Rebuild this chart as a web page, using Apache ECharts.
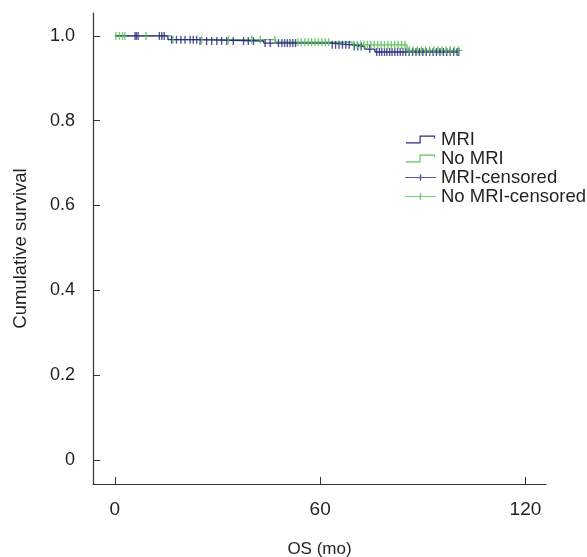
<!DOCTYPE html>
<html>
<head>
<meta charset="utf-8">
<script src="https://cdn.jsdelivr.net/npm/echarts@6/dist/echarts.min.js"></script>
<style>html,body{margin:0;padding:0;background:#fff;}#c{width:587px;height:557px;}</style>
</head>
<body>
<div id="c"></div>
<script>
// Step curves (time in months, cumulative survival)
var mriTimes = [0, 15.5, 24, 43.5, 63, 69.3, 73, 76, 100.5];
var mriSurv  = [1.0, 0.991, 0.988, 0.983, 0.979, 0.975, 0.969, 0.962, 0.962];
var noMriTimes = [0, 16.5, 47, 69.3, 85.4, 101.5];
var noMriSurv  = [1.0, 0.991, 0.985, 0.979, 0.966, 0.966];
// Censoring times
var mriCensored = [5.9, 6.3, 6.8, 13, 13.7, 14.4, 16.6, 18, 19.3, 20.5, 22, 22.9, 23.9, 24.9, 26.8, 28.3, 29.8, 31.2, 32.7, 34.6, 37.6, 39, 40.5, 43.9, 45.4, 47.8, 48.8, 49.6, 50.4, 51.2, 52, 52.8, 63.5, 64.5, 65.5, 66.5, 67.5, 68.5, 70, 71, 72, 74.5, 76.5, 77.3, 78, 78.8, 79.5, 80.3, 81, 81.8, 82.6, 83.4, 84.2, 85, 86, 87, 88, 89, 90, 91, 92, 93, 94, 95, 96, 97, 98, 99, 100, 100.5];
var noMriCensored = [0.3, 1.3, 2.2, 2.9, 9.1, 17, 25.4, 33.2, 40, 42.5, 46.8, 53.5, 54.5, 55.5, 56.5, 57.5, 58.5, 59.5, 60.5, 61.5, 62.5, 69.8, 70.8, 71.8, 72.8, 73.8, 74.8, 75.8, 76.8, 77.8, 78.8, 79.8, 80.8, 81.8, 82.8, 83.8, 84.8, 86, 87.2, 88.4, 89.6, 90.8, 92, 93.2, 94.4, 95.6, 96.8, 98, 99.2, 100.4];
// Axis ticks
var xTicks = [0, 60, 120];
var yTicks = [0, 0.2, 0.4, 0.6, 0.8, 1.0];
var seriesNames = ['MRI', 'No MRI', 'MRI-censored', 'No MRI-censored'];

var NAVY = '#2d2a80', GREEN = '#5cc45c';

function pairs(ts, ss) { return ts.map(function (t, i) { return [t, ss[i]]; }); }
function survAt(ts, ss, t) {
  var v = ss[0];
  for (var i = 0; i < ts.length; i++) { if (ts[i] <= t) v = ss[i]; }
  return v;
}
function censorPts(cs, ts, ss) { return cs.map(function (t) { return [t, survAt(ts, ss, t)]; }); }

var stepIcon = 'path://M0,7 L14,7 L14,0 L30,0 L30,3 L29,3 L29,1.2 L15.2,1.2 L15.2,8.2 L0,8.2 Z';
var censIcon = 'path://M0,3.6 L14.3,3.6 L14.3,1 L15.7,1 L15.7,3.6 L30,3.6 L30,4.6 L15.7,4.6 L15.7,7.2 L14.3,7.2 L14.3,4.6 L0,4.6 Z';

var FONT = 'Liberation Sans';
var TXT = '#231f20';
var chart = echarts.init(document.getElementById('c'), null, { renderer: 'canvas' });
chart.setOption({
  animation: false,
  backgroundColor: '#fff',
  textStyle: { fontFamily: FONT },
  grid: { left: 93, right: 41, top: 13, bottom: 73, containLabel: false, outerBoundsMode: 'none' },
  legend: {
    orient: 'vertical', left: 405, top: 130, padding: 0,
    itemWidth: 31, itemHeight: 8, itemGap: 0,
    textStyle: { fontFamily: FONT, fontSize: 18.5, color: TXT, lineHeight: 18.6 },
    data: [
      { name: seriesNames[0], icon: stepIcon },
      { name: seriesNames[1], icon: stepIcon },
      { name: seriesNames[2], icon: censIcon },
      { name: seriesNames[3], icon: censIcon }
    ]
  },
  xAxis: {
    type: 'value', min: -6.4, max: 126,
    name: 'OS (mo)', nameLocation: 'middle', nameGap: 57, nameMoveOverlap: false,
    nameTextStyle: { fontFamily: FONT, fontSize: 17, color: TXT },
    axisLine: { show: true, onZero: false, lineStyle: { color: '#333', width: 1.2 } },
    axisTick: { show: true, inside: true, length: 7, customValues: xTicks, lineStyle: { color: '#333', width: 1 } },
    axisLabel: { customValues: xTicks, margin: 16, fontSize: 19, color: TXT, fontFamily: FONT },
    splitLine: { show: false }
  },
  yAxis: {
    type: 'value', min: -0.057, max: 1.054,
    name: 'Cumulative survival', nameLocation: 'middle', nameGap: 63, nameRotate: 90, nameMoveOverlap: false,
    nameTextStyle: { fontFamily: FONT, fontSize: 18.5, color: TXT },
    axisLine: { show: true, onZero: false, lineStyle: { color: '#333', width: 1.2 } },
    axisTick: { show: true, inside: true, length: 7, customValues: yTicks, lineStyle: { color: '#333', width: 1 } },
    axisLabel: {
      customValues: yTicks, margin: 18, fontSize: 18, color: TXT, fontFamily: FONT,
      formatter: function (v) { return Math.abs(v) < 1e-9 ? '0' : v.toFixed(1); }
    },
    splitLine: { show: false }
  },
  series: [
    { name: seriesNames[0], type: 'line', step: 'end', showSymbol: false, color: NAVY,
      lineStyle: { color: NAVY, width: 1.3 }, itemStyle: { color: NAVY }, data: pairs(mriTimes, mriSurv), z: 3 },
    { name: seriesNames[1], type: 'line', step: 'end', showSymbol: false, color: GREEN,
      lineStyle: { color: GREEN, width: 1.3 }, itemStyle: { color: GREEN }, data: pairs(noMriTimes, noMriSurv), z: 2 },
    { name: seriesNames[2], type: 'scatter', symbol: 'rect', symbolSize: [1.4, 8], color: NAVY,
      itemStyle: { color: NAVY, opacity: 0.8 }, data: censorPts(mriCensored, mriTimes, mriSurv), z: 4 },
    { name: seriesNames[3], type: 'scatter', symbol: 'rect', symbolSize: [1.4, 8], color: GREEN,
      itemStyle: { color: GREEN, opacity: 0.85 }, data: censorPts(noMriCensored, noMriTimes, noMriSurv), z: 5 }
  ]
});
</script>
</body>
</html>
